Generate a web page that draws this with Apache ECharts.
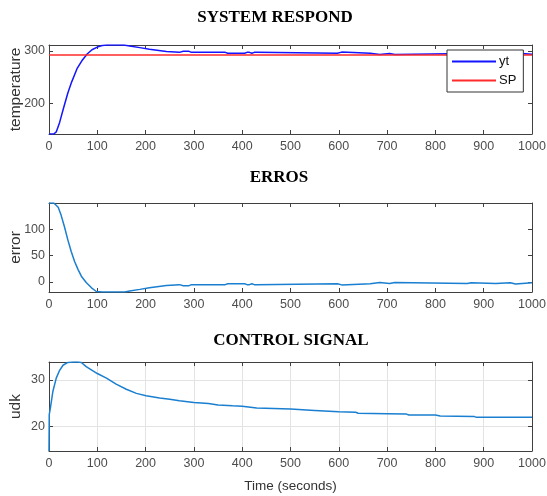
<!DOCTYPE html>
<html>
<head>
<meta charset="utf-8">
<title>System respond</title>
<script src="https://cdn.jsdelivr.net/npm/echarts@6/dist/echarts.min.js"></script>
<style>
  html, body { margin: 0; padding: 0; background: #fff; }
  #chart { width: 547px; height: 496px; }
</style>
</head>
<body>
<div id="chart"></div>
<script>
// --- panel 1: temperature yt and set point SP
const ytTime = [0, 10, 15, 22, 30, 39, 47, 58, 68, 79, 89, 100, 110, 120, 155, 167, 188, 208, 243, 270, 278, 290, 295, 365, 370,
  405, 410, 415, 420, 425, 430, 433, 597, 600, 606, 609, 665, 668, 685, 688, 705, 708, 716, 720, 866, 869, 874, 877,
  925, 928, 955, 958, 966, 969, 1000]
const ytValues = [142, 142, 146, 164, 191, 220, 241, 266, 281, 294, 302, 307, 310, 311, 311, 309, 306, 303, 298.5, 297, 299, 299, 297, 297, 295.5,
  295.5, 297, 297, 295.5, 297, 297, 295.5, 295.5, 297.5, 297.5, 295.5, 295.5, 293, 293, 295, 295, 293, 293, 295, 295, 293.5, 293.5, 295,
  295, 293.5, 293.5, 296, 296, 293.5, 293.5]
const spTime = [0, 1000]
const spValues = [292, 292]

// --- panel 2: error
const errTime = [0, 10, 14, 19, 25, 32, 39, 46, 53, 60, 67, 77, 88, 98, 110, 130, 157, 167, 188, 208, 243, 270, 278, 290, 295, 365, 370,
  405, 410, 415, 420, 425, 430, 433, 597, 600, 606, 609, 665, 668, 685, 688, 705, 708, 716, 720, 866, 869, 874, 877,
  925, 928, 955, 958, 966, 969, 1000]
const errValues = [150, 150, 148, 142, 127, 105, 80, 58, 39, 24, 11, -1, -11, -18, -19, -19, -19, -17, -14, -11, -6.5, -5, -7, -7, -5, -5, -3.5,
  -3.5, -5, -5, -3.5, -5, -5, -3.5, -3.5, -5.5, -5.5, -3.5, -3.5, -1, -1, -3, -3, -1, -1, -3, -3, -1.5, -1.5, -3,
  -3, -1.5, -1.5, -4, -4, -1.5, -1.5]

// --- panel 3: control signal udk
const udkTime = [0, 0.5, 3, 8, 15, 22, 29, 39, 50, 60, 67, 77, 100, 119, 139, 160, 181, 201, 229, 250, 270, 300, 330, 350, 380, 400,
  430, 500, 550, 600, 635, 640, 700, 740, 745, 800, 810, 880, 885, 1000]
const udkValues = [14.6, 22.5, 24.0, 27.5, 30.4, 32.1, 33.2, 33.8, 33.9, 33.9, 33.8, 32.9, 31.4, 30.4, 29.1, 28.0, 27.1, 26.6, 26.1, 25.8, 25.5, 25.1, 24.9, 24.6, 24.4, 24.3,
  23.9, 23.7, 23.4, 23.1, 23.0, 22.8, 22.7, 22.6, 22.4, 22.4, 22.2, 22.1, 21.9, 21.9]

// tick labels
const tempTicks = [200, 300]
const errTicks = [0, 50, 100]
const udkTicks = [20, 30]

const pairs = (t, v) => t.map((x, i) => [x, v[i]])

const boxColor = '#404040'
const labelColor = '#4d4d4d'
const lineBlue = '#1a7fd0'
const tops = [45, 203, 362]

const chart = echarts.init(document.getElementById('chart'))

// x axes: bottom (labels) + top (ticks only) for every panel
const xAxes = []
const yAxes = []
const yRanges = [[142, 311], [-19, 150], [14.6, 33.9]]
const yTicks = [tempTicks, errTicks, udkTicks]
const yNames = ['temperature', 'error', 'udk']

for (let g = 0; g < 3; g++) {
  xAxes.push({
    type: 'value',
    gridIndex: g,
    min: 0,
    max: 1000,
    interval: 100,
    position: 'bottom',
    name: g === 2 ? 'Time (seconds)' : '',
    nameLocation: 'middle',
    nameGap: 28,
    nameTextStyle: { color: '#333', fontSize: 13.5, fontFamily: 'Liberation Sans' },
    axisLine: { show: true, onZero: false, lineStyle: { color: boxColor, width: 1 } },
    axisTick: { show: true, inside: true, length: 4, lineStyle: { color: boxColor } },
    axisLabel: {
      color: labelColor, fontSize: 12.5, fontFamily: 'Liberation Sans', margin: 6,
      formatter: (v) => String(v),
    },
    splitLine: { show: g === 2, lineStyle: { color: '#e3e3e3', width: 1 } },
  })
  xAxes.push({
    type: 'value',
    gridIndex: g,
    min: 0,
    max: 1000,
    interval: 100,
    position: 'top',
    axisLine: { show: true, onZero: false, lineStyle: { color: boxColor, width: 1 } },
    axisTick: { show: true, inside: true, length: 4, lineStyle: { color: boxColor } },
    axisLabel: { show: false },
    splitLine: { show: false },
  })
  yAxes.push({
    type: 'value',
    gridIndex: g,
    min: yRanges[g][0],
    max: yRanges[g][1],
    position: 'left',
    name: yNames[g],
    nameLocation: 'middle',
    nameGap: 25,
    nameMoveOverlap: false,
    nameTextStyle: { color: '#333', fontSize: 15.5, fontFamily: 'Liberation Sans' },
    axisLine: { show: true, onZero: false, lineStyle: { color: boxColor, width: 1 } },
    axisTick: { show: true, inside: true, length: 4, lineStyle: { color: boxColor }, customValues: yTicks[g] },
    axisLabel: { color: labelColor, fontSize: 12.5, fontFamily: 'Liberation Sans', margin: 4, customValues: yTicks[g] },
    splitLine: { show: g === 2, lineStyle: { color: '#e3e3e3', width: 1 } },
  })
  yAxes.push({
    type: 'value',
    gridIndex: g,
    min: yRanges[g][0],
    max: yRanges[g][1],
    position: 'right',
    axisLine: { show: true, onZero: false, lineStyle: { color: boxColor, width: 1 } },
    axisTick: { show: true, inside: true, length: 4, lineStyle: { color: boxColor }, customValues: yTicks[g] },
    axisLabel: { show: false, customValues: yTicks[g] },
    splitLine: { show: false },
  })
}

const titleStyle = { fontFamily: 'Liberation Serif', fontWeight: 'bold', fontSize: 17, color: '#000' }

const option = {
  animation: false,
  backgroundColor: '#fff',
  title: [
    { text: 'SYSTEM RESPOND', left: 275, top: 9, textAlign: 'center', padding: 0, textStyle: titleStyle },
    { text: 'ERROS', left: 279, top: 169, textAlign: 'center', padding: 0, textStyle: titleStyle },
    { text: 'CONTROL SIGNAL', left: 291, top: 332, textAlign: 'center', padding: 0, textStyle: titleStyle },
  ],
  legend: {
    data: ['yt', 'SP'],
    orient: 'vertical',
    left: 447,
    top: 50,
    padding: [5, 7, 5, 5],
    itemWidth: 44,
    itemHeight: 2,
    itemGap: 6,
    icon: 'rect',
    backgroundColor: '#fff',
    borderColor: '#333',
    borderWidth: 1,
    textStyle: { color: '#111', fontSize: 13, fontFamily: 'Liberation Sans', padding: [0, 0, 0, -2] },
  },
  grid: tops.map((t) => ({
    left: 49, right: 15, top: t, height: 89,
    containLabel: false, outerBoundsMode: 'none',
  })),
  xAxis: xAxes,
  yAxis: yAxes,
  series: [
    {
      name: 'yt',
      type: 'line',
      xAxisIndex: 0,
      yAxisIndex: 0,
      symbol: 'none',
      lineStyle: { color: '#1414ff', width: 1.5 },
      itemStyle: { color: '#1414ff' },
      data: pairs(ytTime, ytValues),
    },
    {
      name: 'SP',
      type: 'line',
      xAxisIndex: 0,
      yAxisIndex: 0,
      symbol: 'none',
      lineStyle: { color: '#ff2a2a', width: 1.5 },
      itemStyle: { color: '#ff2a2a' },
      data: pairs(spTime, spValues),
    },
    {
      name: 'error',
      type: 'line',
      xAxisIndex: 2,
      yAxisIndex: 2,
      symbol: 'none',
      lineStyle: { color: lineBlue, width: 1.5 },
      data: pairs(errTime, errValues),
    },
    {
      name: 'udk',
      type: 'line',
      xAxisIndex: 4,
      yAxisIndex: 4,
      symbol: 'none',
      lineStyle: { color: lineBlue, width: 1.5 },
      data: pairs(udkTime, udkValues),
    },
  ],
}

chart.setOption(option)
</script>
</body>
</html>
